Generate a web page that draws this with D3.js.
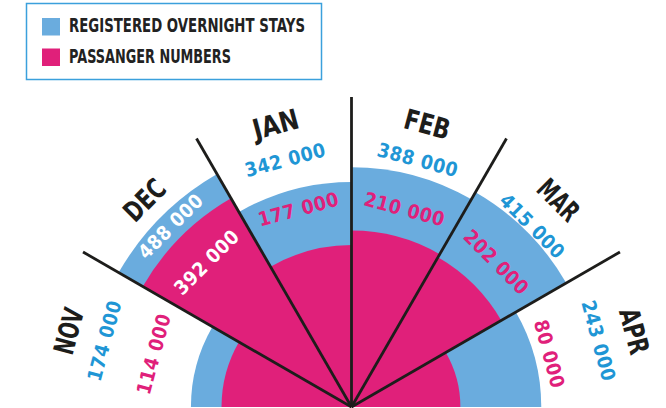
<!doctype html>
<html lang="en">
<head>
<meta charset="UTF-8">
<title>Overnight stays and passengers</title>
<style>
  body { margin: 0; background: #fff; }
  svg text { font-family: "Liberation Sans Narrow", "DejaVu Sans Condensed", sans-serif; font-weight: bold; }
  .val { font-family: "DejaVu Sans Condensed", "Liberation Sans Narrow", sans-serif; }
  .legtext { font-family: "DejaVu Sans", sans-serif; }
</style>
<script src="https://cdn.jsdelivr.net/npm/d3@7"></script>
</head>
<body>
<script>
var months = ["NOV", "DEC", "JAN", "FEB", "MAR", "APR"];
var overnight = [174000, 488000, 342000, 388000, 415000, 243000];
var passengers = [114000, 392000, 177000, 210000, 202000, 80000];
var seriesNames = ["REGISTERED OVERNIGHT STAYS", "PASSANGER NUMBERS"];

var w = 666, h = 408;
var cx = 351.5, cy = 407;
var blue = "#6aacde", pink = "#e0207a", blueText = "#1f96d5", dark = "#1d1d1b";

var svg = d3.select("body").append("svg")
  .attr("width", w)
  .attr("height", h);

// angle per month, 0 = straight up
var angle = d3.scaleBand().domain(months).range([-Math.PI / 2, Math.PI / 2]).padding(0);
var r = d3.scaleSqrt().domain([0, 500000]).range([0, 272.2]);

var g = svg.append("g").attr("transform", "translate(" + cx + "," + cy + ")");
var arc = d3.arc().innerRadius(0);

function drawSeries(vals, color) {
  g.selectAll(null)
    .data(months)
    .enter()
    .append("path")
    .attr("d", function(m, i) {
      return arc({ startAngle: angle(m), endAngle: angle(m) + angle.bandwidth(), outerRadius: r(vals[i]) });
    })
    .attr("fill", color);
}
drawSeries(overnight, blue);
drawSeries(passengers, pink);

// divider lines
var dividers = months.slice(1).map(function(m) { return angle(m); });
g.selectAll(".div")
  .data(dividers)
  .enter()
  .append("line")
  .attr("x1", 0).attr("y1", 0)
  .attr("x2", function(a) { return 310 * Math.sin(a); })
  .attr("y2", function(a) { return -310 * Math.cos(a); })
  .attr("stroke", dark)
  .attr("stroke-width", 2.8);

function mid(m) { return angle(m) + angle.bandwidth() / 2; }
function place(rad, m) {
  var a = mid(m);
  return "translate(" + (rad * Math.sin(a)) + "," + (-rad * Math.cos(a)) + ") rotate(" + (a * 180 / Math.PI) + ")";
}
function fmt(v) {
  return d3.format(",")(v).replace(/,/g, " ");
}

// month labels
g.selectAll(".month")
  .data(months)
  .enter()
  .append("text")
  .attr("class", "legtext")
  .attr("transform", function(m) { return place(293, m); })
  .attr("text-anchor", "middle")
  .attr("dy", "0.36em")
  .attr("font-size", "28px")
  .attr("fill", dark)
  .attr("textLength", function(m) { return m.length * 15.5; })
  .attr("lengthAdjust", "spacingAndGlyphs")
  .text(function(m) { return m; });

function valueLabels(vals, rad, color) {
  g.selectAll(null)
    .data(months)
    .enter()
    .append("text")
    .attr("class", "val")
    .attr("transform", function(m) { return place(rad, m); })
    .attr("text-anchor", "middle")
    .attr("dy", "0.36em")
    .attr("font-size", "19.5px")
    .attr("letter-spacing", "0.5px")
    .attr("fill", function(m, i) { return r(vals[i]) > rad + 8 ? "#fff" : color; })
    .text(function(m, i) { return fmt(vals[i]); });
}
valueLabels(overnight, 256, blueText);
valueLabels(passengers, 205, pink);

// legend
svg.append("rect")
  .attr("x", 26.5).attr("y", 3.5)
  .attr("width", 295).attr("height", 76)
  .attr("fill", "#fff")
  .attr("stroke", "#3ba0dc")
  .attr("stroke-width", 1.5);

var legendColors = [blue, pink];
var legendWidths = [236, 162];
var leg = svg.selectAll(".leg")
  .data(seriesNames)
  .enter()
  .append("g")
  .attr("transform", function(d, i) { return "translate(42," + (18 + i * 30.5) + ")"; });
leg.append("rect")
  .attr("width", 18).attr("height", 17.5)
  .attr("fill", function(d, i) { return legendColors[i]; });
leg.append("text")
  .attr("class", "legtext")
  .attr("x", 27).attr("y", 14)
  .attr("font-size", "19px")
  .attr("fill", "#222")
  .attr("textLength", function(d, i) { return legendWidths[i]; })
  .attr("lengthAdjust", "spacingAndGlyphs")
  .text(function(d) { return d; });
</script>
</body>
</html>
